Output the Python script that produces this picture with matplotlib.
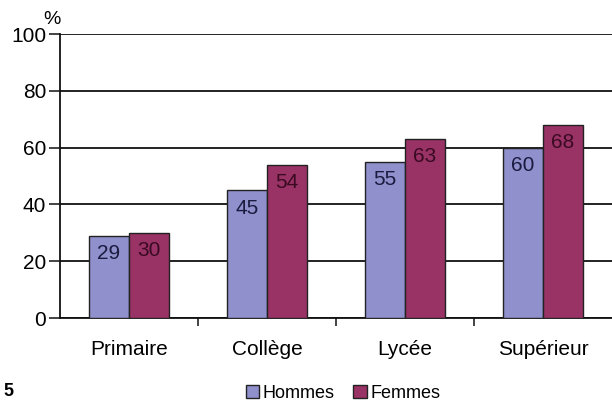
import numpy as np
import matplotlib
matplotlib.use("Agg")
import matplotlib.pyplot as plt

plt.rcParams['font.family'] = ['Liberation Sans', 'DejaVu Sans']

niveaux = ["Primaire", "Collège", "Lycée", "Supérieur"]
hommes = [29, 45, 55, 60]
femmes = [30, 54, 63, 68]
yticks = [0, 20, 40, 60, 80, 100]

c_h = "#8f90cc"
c_f = "#993366"

fig = plt.figure(figsize=(6.12, 4.01), dpi=100)
ax = fig.add_axes([60/612, 1-318/401, 1-60/612, (318-34)/401])

x = np.arange(len(niveaux))
w = 0.29
b1 = ax.bar(x - w/2, hommes, w, color=c_h, edgecolor="#222222", linewidth=1, label="Hommes", zorder=3)
b2 = ax.bar(x + w/2, femmes, w, color=c_f, edgecolor="#222222", linewidth=1, label="Femmes", zorder=3)

for r, v in zip(b1, hommes):
    ax.text(r.get_x() + r.get_width()/2, v - 6.3, str(v), ha="center", va="center",
            fontsize=15, color="#1b1b40", zorder=4)
for r, v in zip(b2, femmes):
    ax.text(r.get_x() + r.get_width()/2, v - 6.3, str(v), ha="center", va="center",
            fontsize=15, color="#3a0a22", zorder=4)

ax.set_xlim(-0.5, 3.5)
ax.set_ylim(0, 100)
ax.set_yticks(yticks)
ax.set_yticklabels([str(t) for t in yticks], fontsize=15)
ax.set_xticks(x)
ax.set_xticklabels(niveaux, fontsize=15)
ax.set_xticks([0.5, 1.5, 2.5], minor=True)
ax.tick_params(axis="x", which="major", length=0, pad=16)
ax.tick_params(axis="x", which="minor", length=6, width=1.2, color="#222222")
ax.tick_params(axis="y", length=8, width=1.2, color="#222222", pad=2)
ax.grid(axis="y", color="#111111", linewidth=1.3, zorder=0)
for s in ["top", "right"]:
    ax.spines[s].set_visible(False)
for s in ["left", "bottom"]:
    ax.spines[s].set_linewidth(1.3)
    ax.spines[s].set_color("#111111")

fig.text(52/612, 1-20/401, "%", fontsize=14, ha="center", va="center")
fig.text(3/612, 1-391/401, "5", fontsize=13, fontweight="bold", ha="left", va="center")

fig.legend(handles=[b1, b2], loc="center", bbox_to_anchor=(343/612, 1-393/401), ncol=2,
           frameon=False, fontsize=13, handlelength=0.75, handleheight=0.75,
           handletextpad=0.2, columnspacing=1.0, borderpad=0)

fig.savefig("out.png", dpi=100)
